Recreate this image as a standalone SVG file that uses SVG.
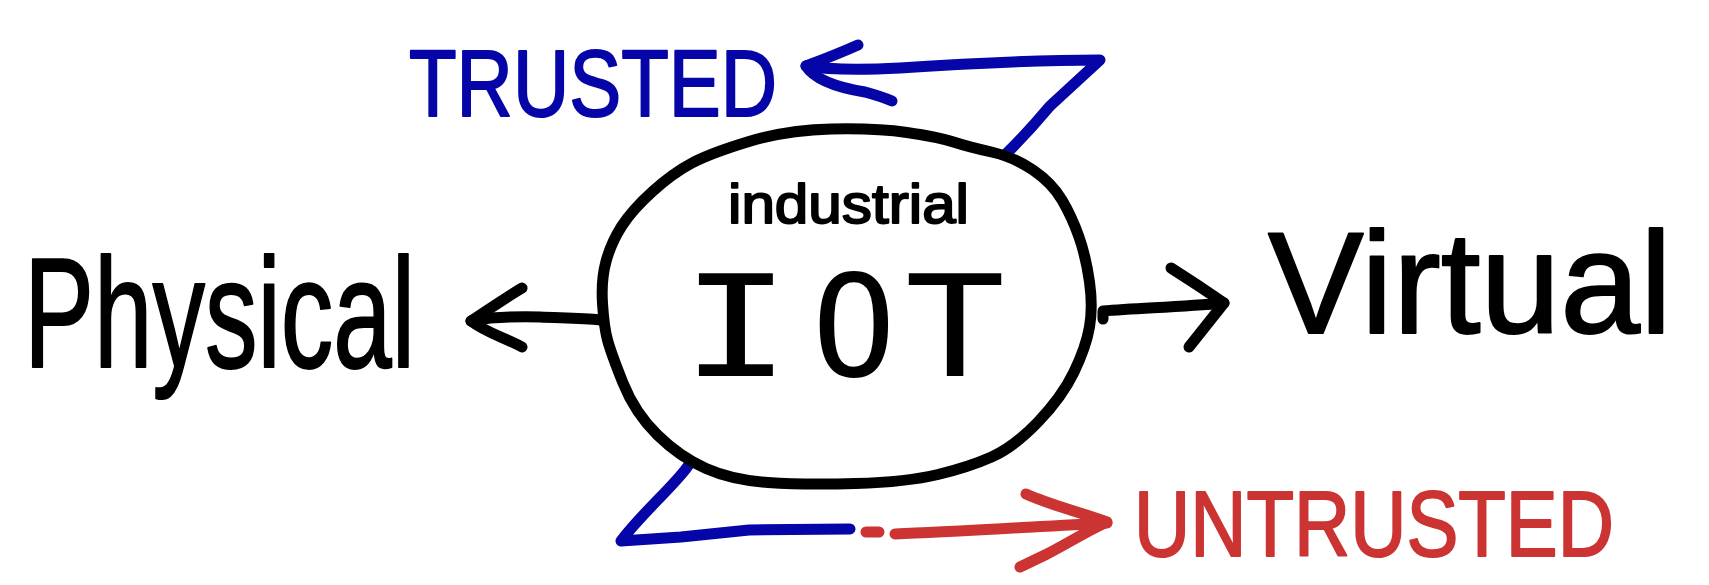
<svg xmlns="http://www.w3.org/2000/svg" width="1709" height="585" viewBox="0 0 1709 585">
<style>
.ink{fill:none;stroke-width:11;stroke-linecap:round;stroke-linejoin:round}
.k{stroke:#000}
.b{stroke:#0505a8}
.r{stroke:#cc3333}
.lbl{font-family:"Liberation Sans",Arial,sans-serif;stroke-linejoin:round;stroke-width:2}
.blk{fill:#000;stroke:#000}
.big{font-family:"DejaVu Sans Mono",monospace;font-size:140px;fill:#000;text-anchor:middle}
</style>
<rect width="1709" height="585" fill="#fff"/>
<g id="connectors">
<path class="ink b" d="M1007,153 C1020,140 1035,124 1050,106 L1100,60 C1040,60 960,64 900,68 C860,70 830,70 806,66"/>
<path class="ink b" d="M858,45 C840,53 822,60 806,66 C815,80 840,88 865,92 C876,95 885,98 892,101"/>
<path class="ink k" d="M601,320 C580,318 560,318 540,317 C520,316 505,317 490,318 L471,321"/>
<path class="ink k" d="M522,288 C505,298 488,310 471,321 C485,332 505,338 522,347"/>
<path class="ink k" d="M1103,319 L1103,311 C1140,308 1180,307 1224,303"/>
<path class="ink k" d="M1171,268 C1190,280 1208,292 1224,303 C1212,318 1200,333 1189,347"/>
<path class="ink b" d="M688,466 C675,485 640,515 621,541 L681,537 L749,530 L850,529"/>
<path class="ink r" d="M866,532 L879,532"/>
<path class="ink r" d="M895,534 C950,532 1030,527 1107,523"/>
<path class="ink r" d="M1026,494 C1050,505 1080,512 1107,522 C1085,532 1065,545 1045,555 L1020,567"/>
</g>
<g id="node-iot">
<path class="ink k" d="M831.5,129 Q876,128 907,132.5 Q938,137 953.5,142 Q969,147 991.5,152 Q1014,157 1033,170 Q1052,183 1062,200 Q1072,217 1079,237 Q1086,257 1089.5,282 Q1093,307 1089.5,327 Q1086,347 1074,372 Q1062,397 1038,422 Q1014,447 991.5,457 Q969,467 938,474.5 Q907,482 855.5,483.5 Q804,485 768,482.5 Q732,480 706,468.5 Q680,457 657.5,435 Q635,413 623,383 Q611,353 607.5,340 Q604,327 602.5,303.5 Q601,280 606,261.5 Q611,243 621.5,226.5 Q632,210 652.5,191.5 Q673,173 692,163 Q711,153 749,141.5 Q787,130 831.5,129 Z"/>
<text class="lbl blk" x="728" y="223" font-size="56" textLength="241" lengthAdjust="spacingAndGlyphs">industrial</text>
<text class="big" x="736" y="376" textLength="110" lengthAdjust="spacingAndGlyphs">I</text>
<text class="big" x="854" y="376">O</text>
<text class="big" x="955" y="376" textLength="100" lengthAdjust="spacingAndGlyphs">T</text>
</g>
<g id="node-physical">
<text class="lbl blk" x="24" y="367" font-size="155" textLength="391" lengthAdjust="spacingAndGlyphs">Physical</text>
</g>
<g id="node-virtual">
<text class="lbl blk" x="1268" y="333" font-size="145" textLength="404" lengthAdjust="spacingAndGlyphs">Virtual</text>
</g>
<g id="node-trusted">
<text class="lbl" x="409" y="116" font-size="94" textLength="368" lengthAdjust="spacingAndGlyphs" fill="#0505a8" stroke="#0505a8">TRUSTED</text>
</g>
<g id="node-untrusted">
<text class="lbl" x="1134" y="556" font-size="92" textLength="480" lengthAdjust="spacingAndGlyphs" fill="#cc3333" stroke="#cc3333">UNTRUSTED</text>
</g>
</svg>
